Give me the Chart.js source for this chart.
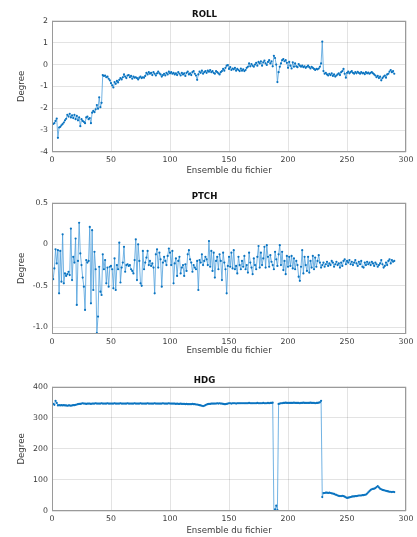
<!DOCTYPE html>
<html>
<head>
<meta charset="utf-8">
<script src="https://cdn.jsdelivr.net/npm/chart.js@4/dist/chart.umd.min.js"></script>
<style>
  html, body { margin: 0; padding: 0; background: #fff; }
  body { width: 417px; height: 537px; overflow: hidden; position: relative; }
  canvas { position: absolute; left: 0; }
</style>
</head>
<body>
<canvas id="roll" width="417" height="180" style="top:0px"></canvas>
<canvas id="ptch" width="417" height="180" style="top:182px"></canvas>
<canvas id="hdg" width="417" height="173" style="top:366px"></canvas>
<script>
// Sample index axis (Ensemble du fichier)
const xTicks = [0, 50, 100, 150, 200, 250, 300];

// Roll angle per sample (degrees)
const roll = [
  -2.72, -2.68, -2.58, -2.47, -3.35, -2.88, -2.85, -2.78, -2.72, -2.65,
  -2.55, -2.48, -2.30, -2.38, -2.25, -2.42, -2.32, -2.45, -2.30, -2.50,
  -2.35, -2.55, -2.42, -2.82, -2.50, -2.58, -2.62, -2.68, -2.42, -2.38,
  -2.50, -2.45, -2.68, -2.20, -2.12, -2.18, -2.05, -1.85, -2.02, -1.50,
  -1.95, -1.75, -0.48, -0.52, -0.50, -0.58, -0.55, -0.65, -0.72, -0.85,
  -0.95, -1.05, -0.80, -0.88, -0.75, -0.82, -0.70, -0.62, -0.68, -0.58,
  -0.45, -0.55, -0.62, -0.50, -0.48, -0.58, -0.52, -0.65, -0.55, -0.60,
  -0.58, -0.62, -0.68, -0.60, -0.55, -0.62, -0.58, -0.60, -0.52, -0.38,
  -0.45, -0.35, -0.42, -0.38, -0.48, -0.35, -0.42, -0.50, -0.40, -0.32,
  -0.40, -0.45, -0.55, -0.48, -0.42, -0.50, -0.38, -0.45, -0.32, -0.40,
  -0.35, -0.42, -0.38, -0.45, -0.40, -0.48, -0.35, -0.42, -0.50, -0.38,
  -0.45, -0.40, -0.52, -0.38, -0.32, -0.45, -0.40, -0.48, -0.35, -0.30,
  -0.42, -0.50, -0.70, -0.45, -0.32, -0.38, -0.28, -0.42, -0.35, -0.30,
  -0.38, -0.28, -0.33, -0.25, -0.35, -0.30, -0.38, -0.42, -0.30, -0.35,
  -0.40, -0.45, -0.35, -0.30, -0.20, -0.28, -0.15, -0.05, -0.02, -0.20,
  -0.12, -0.25, -0.18, -0.22, -0.15, -0.28, -0.20, -0.25, -0.30, -0.18,
  -0.28, -0.22, -0.30, -0.25, -0.15, -0.10, 0.05, -0.08, 0.02, -0.05,
  -0.10, 0.00, 0.08, -0.05, 0.12, 0.05, 0.15, -0.05, 0.10, 0.18,
  0.05, -0.02, 0.12, 0.20, 0.05, 0.15, -0.08, 0.40, 0.30, 0.00,
  -0.80, -0.35, -0.10, 0.05, 0.20, 0.25, 0.15, 0.20, 0.08, -0.15,
  0.12, -0.05, -0.18, 0.10, -0.10, 0.05, -0.08, -0.12, 0.02, -0.05,
  -0.10, -0.05, -0.12, -0.08, -0.15, -0.10, -0.05, -0.12, -0.18, -0.10,
  -0.15, -0.20, -0.25, -0.20, -0.22, -0.18, -0.10, 0.05, 1.05, -0.30,
  -0.42, -0.38, -0.45, -0.50, -0.42, -0.48, -0.40, -0.52, -0.45, -0.55,
  -0.50, -0.45, -0.40, -0.48, -0.35, -0.30, -0.20, -0.42, -0.60, -0.38,
  -0.32, -0.40, -0.35, -0.30, -0.38, -0.42, -0.35, -0.40, -0.33, -0.38,
  -0.42, -0.35, -0.40, -0.38, -0.44, -0.35, -0.40, -0.37, -0.42, -0.38,
  -0.35, -0.40, -0.45, -0.50, -0.58, -0.52, -0.62, -0.55, -0.72, -0.62,
  -0.55, -0.50, -0.60, -0.45, -0.42, -0.32, -0.25, -0.35, -0.30, -0.42
];

// Pitch angle per sample (degrees)
const ptch = [
  -0.42, -0.29, -0.06, -0.23, -0.07, -0.59, -0.08, -0.45, 0.12, -0.47,
  -0.35, -0.38, -0.36, -0.33, -0.37, 0.19, -0.43, -0.15, -0.22, 0.07,
  -0.73, -0.20, 0.26, -0.11, -0.25, -0.40, -0.51, -0.79, -0.19, -0.22,
  -0.20, 0.21, -0.71, 0.17, -0.55, -0.09, -0.30, -1.07, -0.87, -0.27,
  -0.57, -0.61, -0.12, -0.30, -0.19, -0.47, -0.28, -0.51, -0.27, -0.26,
  -0.30, -0.53, -0.17, -0.55, -0.25, -0.30, 0.02, -0.46, -0.28, -0.22,
  -0.03, -0.33, -0.25, -0.24, -0.26, -0.25, -0.30, -0.32, -0.35, -0.19,
  0.06, -0.43, 0.00, -0.20, -0.47, -0.50, -0.08, -0.30, -0.22, -0.16,
  -0.08, -0.25, -0.20, -0.26, -0.23, -0.28, -0.59, -0.12, -0.06, -0.28,
  -0.10, -0.18, -0.51, -0.22, -0.15, -0.20, -0.25, -0.14, -0.05, -0.10,
  -0.25, -0.08, -0.47, -0.23, -0.17, -0.38, -0.20, -0.15, -0.35, -0.28,
  -0.25, -0.38, -0.24, -0.32, -0.12, -0.07, -0.18, -0.22, -0.33, -0.25,
  -0.28, -0.30, -0.20, -0.55, -0.19, -0.22, -0.12, -0.25, -0.20, -0.15,
  -0.18, -0.25, 0.04, -0.27, -0.08, -0.32, -0.10, -0.40, -0.20, -0.15,
  -0.30, -0.12, -0.20, -0.43, -0.10, -0.22, -0.30, -0.59, -0.26, -0.15,
  -0.27, -0.10, -0.29, -0.07, -0.30, -0.26, -0.35, -0.15, -0.25, -0.30,
  -0.20, -0.27, -0.14, -0.30, -0.25, -0.34, -0.10, -0.22, -0.28, -0.36,
  -0.17, -0.25, -0.30, -0.15, -0.02, -0.28, -0.10, -0.25, -0.17, -0.03,
  -0.28, -0.01, -0.15, -0.27, -0.13, -0.21, -0.25, -0.30, -0.09, -0.18,
  -0.26, -0.12, -0.01, -0.25, -0.09, -0.31, -0.20, -0.36, -0.14, -0.27,
  -0.15, -0.26, -0.14, -0.29, -0.17, -0.30, -0.20, -0.25, -0.39, -0.44,
  -0.27, -0.07, -0.35, -0.15, -0.25, -0.32, -0.15, -0.34, -0.20, -0.28,
  -0.14, -0.30, -0.16, -0.27, -0.20, -0.13, -0.22, -0.28, -0.25, -0.22,
  -0.27, -0.24, -0.21, -0.26, -0.23, -0.25, -0.20, -0.22, -0.27, -0.24,
  -0.21, -0.25, -0.23, -0.28, -0.22, -0.26, -0.20, -0.18, -0.24, -0.20,
  -0.22, -0.19, -0.24, -0.21, -0.25, -0.22, -0.19, -0.23, -0.26, -0.21,
  -0.24, -0.20, -0.27, -0.28, -0.22, -0.25, -0.21, -0.24, -0.22, -0.25,
  -0.21, -0.23, -0.26, -0.22, -0.24, -0.27, -0.25, -0.23, -0.19, -0.24,
  -0.28, -0.26, -0.22, -0.25, -0.20, -0.18, -0.23, -0.19, -0.21, -0.20
];

// Heading per sample (degrees)
const hdg = [
  345, 342, 355, 348, 340, 341, 340, 341, 340, 341,
  340, 340, 339, 340, 340, 339, 340, 341, 341, 342,
  343, 344, 345, 345, 346, 347, 346, 346, 345, 346,
  346, 346, 345, 346, 346, 346, 347, 346, 346, 346,
  346, 347, 346, 346, 346, 346, 347, 346, 346, 346,
  346, 346, 347, 346, 346, 346, 346, 347, 346, 346,
  346, 346, 346, 347, 346, 346, 346, 346, 346, 347,
  346, 346, 346, 346, 347, 346, 346, 346, 346, 346,
  347, 346, 346, 346, 346, 346, 347, 346, 346, 346,
  346, 346, 346, 347, 346, 346, 346, 346, 347, 346,
  346, 346, 346, 346, 345, 346, 345, 345, 346, 345,
  345, 345, 344, 345, 344, 344, 344, 344, 345, 344,
  344, 343, 343, 342, 341, 340, 339, 338, 339, 341,
  343, 344, 345, 345, 346, 346, 346, 346, 346, 347,
  346, 347, 346, 346, 345, 344, 344, 345, 346, 347,
  347, 346, 347, 347, 347, 346, 347, 347, 347, 347,
  347, 347, 347, 347, 347, 347, 348, 347, 347, 347,
  347, 347, 347, 348, 347, 347, 347, 347, 348, 347,
  347, 347, 348, 347, 348, 348, 349, 0, 5, 17,
  3, 345, 346, 347, 347, 348, 348, 349, 348, 348,
  348, 348, 348, 348, 349, 348, 348, 348, 348, 347,
  348, 348, 349, 348, 348, 348, 348, 348, 349, 348,
  348, 348, 347, 348, 348, 349, 350, 355, 45, 58,
  58, 59, 59, 58, 59, 58, 57, 56, 55, 53,
  52, 50, 49, 48, 48, 49, 48, 46, 44, 42,
  43, 44, 45, 46, 47, 47, 48, 48, 49, 50,
  50, 50, 51, 51, 52, 53, 56, 60, 64, 68,
  70, 71, 72, 74, 77, 80, 76, 72, 70, 68,
  67, 66, 65, 64, 63, 62, 62, 61, 62, 61
];

// Y tick values shown on each panel
const rollTicks = [-4, -3, -2, -1, 0, 1, 2];
const ptchTicks = [-1, -0.5, 0, 0.5];
const hdgTicks = [0, 100, 200, 300, 400];

const FONT = "'DejaVu Sans', sans-serif";
const LINE = '#4f9fdc';
const DOT = '#0b74c0';
const GRID = 'rgba(38,38,38,0.13)';
const TEXT = '#3a3a3a';

// Full box around the plotting area
const boxPlugin = {
  id: 'axesBox',
  afterDraw(chart) {
    const {ctx, chartArea: a} = chart;
    ctx.save();
    ctx.strokeStyle = '#9a9a9a';
    ctx.lineWidth = 1;
    ctx.strokeRect(Math.round(a.left) + 0.5, Math.round(a.top) + 0.5,
                   Math.round(a.right - a.left) - 1, Math.round(a.bottom - a.top) - 1);
    ctx.restore();
  }
};

function panel(id, title, values, yMin, yMax, yTicks, xTitlePad) {
  const pts = values.map((v, i) => ({x: i + 1, y: v}));
  return new Chart(document.getElementById(id), {
    type: 'line',
    data: {
      datasets: [{
        data: pts,
        borderColor: LINE,
        borderWidth: 0.8,
        pointRadius: 1.1,
        pointBackgroundColor: DOT,
        pointBorderWidth: 0,
        tension: 0
      }]
    },
    options: {
      responsive: false,
      animation: false,
      events: [],
      layout: {padding: {left: 0, right: 8, top: 0, bottom: 0}},
      plugins: {
        legend: {display: false},
        tooltip: {enabled: false},
        title: {
          display: true,
          text: title,
          color: '#111',
          font: {family: FONT, size: 8.6, weight: 'bold', lineHeight: 1.2},
          padding: {top: 9.5, bottom: 1}
        }
      },
      scales: {
        x: {
          type: 'linear',
          min: 0, max: 300,
          afterFit: s => { s.height = 28; },
          afterBuildTicks: s => { s.ticks = xTicks.map(v => ({value: v})); },
          grid: {color: GRID, drawTicks: false},
          border: {display: false},
          ticks: {color: TEXT, font: {family: FONT, size: 7.8}, padding: 3.5, maxRotation: 0},
          title: {display: true, text: 'Ensemble du fichier', color: TEXT,
                  font: {family: FONT, size: 8.6, lineHeight: 1.2},
                  padding: {top: 0, bottom: xTitlePad}}
        },
        y: {
          type: 'linear',
          min: yMin, max: yMax,
          afterFit: s => { s.width = 52; },
          afterBuildTicks: s => { s.ticks = yTicks.map(v => ({value: v})); },
          grid: {color: GRID, drawTicks: false},
          border: {display: false},
          ticks: {color: TEXT, font: {family: FONT, size: 7.8}, padding: 4},
          title: {display: true, text: 'Degree', color: TEXT,
                  font: {family: FONT, size: 8.6, lineHeight: 1.2},
                  padding: {top: 16.5, bottom: 0}}
        }
      }
    },
    plugins: [boxPlugin]
  });
}

panel('roll', 'ROLL', roll, -4, 2, rollTicks, 3.8);
panel('ptch', 'PTCH', ptch, -1.08, 0.5, ptchTicks, 5.8);
panel('hdg', 'HDG', hdg, 0, 400, hdgTicks, 3.2);
</script>
</body>
</html>
